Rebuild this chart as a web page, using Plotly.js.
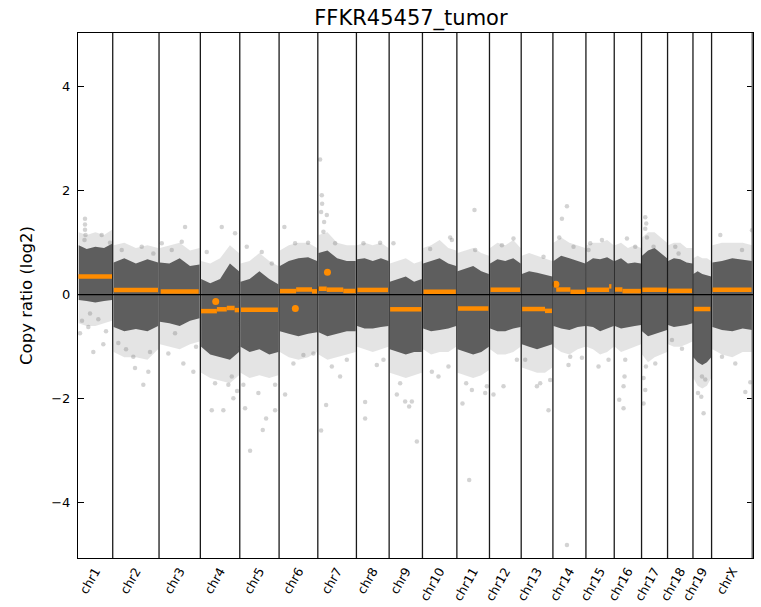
<!DOCTYPE html>
<html>
<head>
<meta charset="utf-8">
<script src="https://cdn.plot.ly/plotly-3.0.1.min.js"></script>
<style>html,body{margin:0;padding:0;background:#fff;}#chart{width:761px;height:607px;}</style>
</head>
<body>
<div id="chart"></div>
<script>
// ---------- DATA ----------
const chromNames = ['chr1','chr2','chr3','chr4','chr5','chr6','chr7','chr8','chr9','chr10',
  'chr11','chr12','chr13','chr14','chr15','chr16','chr17','chr18','chr19','chrX'];
// extent of each chromosome along the genome axis (relative units)
const chromSpan = [34.7,46.3,41.3,39.4,39.3,38.7,38.6,32.7,33.3,34.4,32.6,31.7,31.7,33.0,28.3,27.3,26.0,25.4,18.6,41.4];

// fractions along each chromosome where the bin-cloud envelope was read
const envFrac = [0.02,0.25,0.5,0.75,0.98];
// dense core of the bin cloud (upper / lower edge, log2)
const coreHi = [
  [0.95,0.88,0.92,0.9,0.98],[0.62,0.7,0.6,0.68,0.62],[0.62,0.6,0.7,0.55,0.58],[0.3,0.22,0.3,0.6,0.45],
  [0.25,0.3,0.45,0.3,0.2],[0.55,0.65,0.7,0.72,0.65],[0.8,0.85,0.7,0.65,0.65],[0.68,0.7,0.65,0.7,0.65],
  [0.25,0.3,0.35,0.25,0.3],[0.6,0.65,0.7,0.6,0.55],[0.45,0.5,0.55,0.45,0.4],[0.6,0.68,0.65,0.7,0.6],
  [0.4,0.45,0.42,0.38,0.35],[0.65,0.75,0.7,0.65,0.6],[0.62,0.7,0.68,0.72,0.65],[0.65,0.7,0.6,0.62,0.6],
  [0.75,0.85,0.9,0.8,0.7],[0.65,0.7,0.68,0.62,0.6],[0.4,0.45,0.4,0.38,0.35],[0.62,0.65,0.7,0.68,0.65]];
const coreLo = [
  [-0.1,-0.12,-0.15,-0.12,-0.1],[-0.62,-0.7,-0.66,-0.7,-0.6],[-0.52,-0.55,-0.6,-0.5,-0.45],[-1.0,-1.15,-1.2,-1.25,-1.1],
  [-1.0,-1.1,-1.05,-1.15,-1.1],[-0.7,-0.75,-0.8,-0.75,-0.72],[-0.72,-0.8,-0.75,-0.7,-0.7],[-0.6,-0.65,-0.65,-0.62,-0.6],
  [-1.05,-1.1,-1.15,-1.1,-1.1],[-0.65,-0.7,-0.68,-0.65,-0.6],[-1.05,-1.1,-1.15,-1.1,-1.0],[-0.65,-0.7,-0.7,-0.65,-0.62],
  [-0.95,-1.0,-1.05,-1.0,-0.95],[-0.6,-0.65,-0.68,-0.62,-0.6],[-0.6,-0.62,-0.7,-0.65,-0.6],[-0.6,-0.65,-0.62,-0.6,-0.58],
  [-0.7,-0.8,-0.75,-0.72,-0.68],[-0.58,-0.62,-0.6,-0.58,-0.55],[-1.2,-1.3,-1.35,-1.3,-1.2],[-0.62,-0.68,-0.7,-0.65,-0.68]];
// sparse fringe of the bin cloud
const haloHi = [
  [1.2,1.15,1.2,1.15,1.25],[0.95,1.0,0.9,0.95,0.9],[0.9,0.95,1.0,0.85,0.9],[0.65,0.6,0.7,0.95,0.8],
  [0.6,0.65,0.8,0.65,0.55],[0.85,0.95,1.0,1.0,0.9],[1.15,1.2,1.0,0.95,0.95],[0.95,1.0,0.95,1.0,0.9],
  [0.6,0.65,0.7,0.6,0.65],[0.9,0.95,1.05,0.9,0.85],[0.8,0.85,0.9,0.8,0.75],[0.9,1.0,0.95,1.05,0.9],
  [0.75,0.8,0.75,0.7,0.65],[1.0,1.1,1.0,0.95,0.9],[0.95,1.0,1.0,1.05,0.95],[0.95,1.0,0.9,0.95,0.9],
  [1.1,1.2,1.2,1.1,1.0],[0.95,1.0,1.0,0.9,0.9],[0.7,0.75,0.7,0.7,0.65],[0.95,1.0,1.0,1.0,0.95]];
const haloLo = [
  [-0.55,-0.6,-0.6,-0.55,-0.5],[-1.1,-1.2,-1.2,-1.25,-1.05],[-0.95,-1.0,-1.05,-0.95,-0.9],[-1.5,-1.6,-1.65,-1.7,-1.55],
  [-1.5,-1.6,-1.55,-1.6,-1.55],[-1.1,-1.2,-1.25,-1.2,-1.1],[-1.15,-1.25,-1.2,-1.15,-1.1],[-1.0,-1.05,-1.1,-1.05,-1.0],
  [-1.5,-1.55,-1.6,-1.55,-1.5],[-1.05,-1.15,-1.1,-1.1,-1.0],[-1.5,-1.55,-1.6,-1.55,-1.45],[-1.05,-1.15,-1.15,-1.1,-1.0],
  [-1.4,-1.45,-1.5,-1.5,-1.4],[-1.0,-1.1,-1.15,-1.05,-1.0],[-1.0,-1.05,-1.15,-1.1,-1.0],[-1.0,-1.1,-1.05,-1.0,-0.95],
  [-1.15,-1.3,-1.2,-1.15,-1.1],[-0.95,-1.0,-1.0,-0.95,-0.9],[-1.6,-1.75,-1.8,-1.75,-1.6],[-1.05,-1.15,-1.2,-1.1,-1.1]];

// isolated outlier bins: chromosome index, offset within chromosome, log2 value
const outChrom = [0,0,0,0,0,0,0,0,0,0,0,0,0,0,0,
  1,1,1,1,1,1,1,1,1,1,
  2,2,2,2,2,2,2,2,2,
  3,3,3,3,3,3,3,3,3,3,
  4,4,4,4,4,4,4,4,4,4,4,
  5,5,5,5,5,5,5,
  6,6,6,6,6,6,6,6,6,6,6,6,6,
  7,7,7,7,7,7,
  8,8,8,8,8,8,8,
  9,9,9,9,9,9,
  10,10,10,10,10,10,10,10,
  11,11,11,11,11,
  12,12,12,12,12,12,
  13,13,13,13,13,13,13,13,
  14,14,14,14,14,
  15,15,15,15,15,15,15,
  16,16,16,16,16,16,16,16,16,16,
  17,17,17,17,
  18,18,18,18,18,
  19,19,19,19,19,19,19];
const outPos = [7,7,7,7.5,6.5,23.7,10.3,20.3,2,15.3,25.3,12,32,4,28,
  30.6,22.3,35.6,5.6,20.6,9,29,40.6,13.3,37.3,
  26,12.7,22.7,34.3,24.3,9.3,16,2.7,37,
  21.4,11.4,23,33,28,34.7,6.4,31.4,14.7,36.7,
  10.3,23,18.6,5.3,35.3,26.3,7,32,22,35.3,3.6,
  5.3,6,14.3,24.3,34.3,16,29,
  2.3,4,3.3,9,5.6,8.3,3.3,14,29,22.3,17.3,6.3,4.3,
  8.7,8.7,20.4,27,7,23.7,
  27.7,22.7,20,16,7.7,4.3,11,
  27.7,7.7,16,9.4,26,29.4,
  12.3,17.6,5.6,28.3,30,15,18.3,9.3,
  14,4,12.4,24,27.4,
  27.3,19,15.7,29,4,22.3,
  14,9,6.3,20.6,15.6,17.3,14,29,
  12.6,22.6,4.3,16,2.6,
  9.3,5,10.3,9.3,11,12.7,21,
  3.7,4.7,3.7,5.4,2,3.7,2,4.4,13.7,12,
  7.7,11,14.4,4.4,
  10.6,8.3,5,12.3,9,
  8.7,38.7,33.7,23.7,10.4,30.4,40.4];
const outVal = [1.46,1.35,1.25,1.15,1.05,1.15,-0.62,-0.47,-0.74,-1.1,-0.95,-0.36,1.0,-0.5,-0.7,
  -1.73,-1.41,-1.48,-0.93,-1.19,0.86,0.92,0.79,-1.05,-1.1,
  1.3,0.86,1.02,-1.48,-1.32,-1.13,-0.74,0.99,-1.0,
  1.3,-2.22,-2.22,-1.99,-1.73,1.18,0.82,-1.57,-1.7,-1.85,
  -3.0,-2.6,-1.89,-2.18,-2.22,-2.38,0.92,0.6,0.82,-1.73,-1.73,
  1.3,-1.92,-1.32,-1.16,-1.13,0.99,1.0,
  2.6,1.91,1.59,1.53,1.21,-2.12,-2.61,-1.38,-1.25,-1.57,0.99,1.4,1.75,
  -2.38,-2.06,-1.35,-1.25,0.99,1.0,
  -2.82,-2.05,-2.15,-2.05,-1.92,0.99,-1.7,
  1.1,0.88,-1.57,-1.48,-1.38,1.05,
  -3.56,1.63,-2.09,-1.89,-1.76,-1.83,0.86,-1.7,
  -1.76,-1.92,0.95,1.08,-1.25,
  -2.22,-1.7,-1.76,-1.64,-1.25,0.73,
  1.7,1.46,1.1,0.92,-1.35,-1.19,-4.81,-1.21,
  -1.38,-1.25,0.99,1.05,0.86,
  -2.18,-2.02,-1.57,-1.76,-1.25,1.08,0.92,
  1.49,1.37,1.27,1.1,-2.09,-1.83,-1.6,-1.38,-1.32,0.92,
  0.92,0.79,-1.04,-0.87,
  -2.28,-1.96,-1.89,-1.63,-1.57,
  1.15,-1.68,-1.87,-1.32,-1.19,0.86,1.24];

// segments: chromosome index, start fraction, end fraction, segment mean log2
const segChrom = [0,1,2,3,3,3,3,4,5,5,5,6,6,6,7,8,9,10,11,12,12,13,13,14,14,15,15,16,17,18,19];
const segStart = [0.01,0.02,0.04,0.01,0.42,0.67,0.87,0.03,0.01,0.44,0.85,0.01,0.23,0.66,0.03,0.03,0.03,0.03,0.03,0.03,0.75,0.1,0.53,0.02,0.82,0.02,0.3,0.02,0.02,0.05,0.02];
const segEnd   = [0.99,0.98,0.96,0.42,0.67,0.87,0.99,0.97,0.44,0.85,0.99,0.23,0.66,0.99,0.97,0.97,0.97,0.97,0.97,0.75,0.97,0.53,0.98,0.82,0.9,0.3,0.98,0.98,0.98,0.93,0.98];
const segVal   = [0.35,0.09,0.06,-0.315,-0.28,-0.255,-0.295,-0.29,0.07,0.10,0.065,0.115,0.097,0.072,0.092,-0.28,0.055,-0.265,0.096,-0.275,-0.31,0.10,0.055,0.095,0.16,0.10,0.07,0.095,0.075,-0.275,0.095];
// very short segments (drawn as dots)
const dotChrom = [3,5,6,13];
const dotFrac  = [0.39,0.42,0.25,0.09];
const dotVal   = [-0.13,-0.265,0.43,0.2];

const yTicks = [-4,-2,0,2,4];

// ---------- BUILD ----------
const chromStart = [];
let acc = 0;
chromSpan.forEach(s => { chromStart.push(acc); acc += s; });
const genomeEnd = acc;
const centers = chromSpan.map((s,i) => chromStart[i] + s/2);

const traces = [];
function bandTrace(hi, lo, fillcolor) {
  const xs = [], ys = [];
  for (let c = 0; c < chromNames.length; c++) {
    const st = chromStart[c], sp = chromSpan[c];
    envFrac.forEach((f,k) => { xs.push(st + f*sp); ys.push(hi[c][k]); });
    for (let k = envFrac.length-1; k >= 0; k--) { xs.push(st + envFrac[k]*sp); ys.push(lo[c][k]); }
    xs.push(st + envFrac[0]*sp); ys.push(hi[c][0]);
    xs.push(null); ys.push(null);
  }
  return {type:'scatter', mode:'lines', x:xs, y:ys, fill:'toself', fillcolor:fillcolor,
    line:{width:0, color:fillcolor}, hoverinfo:'skip', showlegend:false};
}
traces.push(bandTrace(haloHi, haloLo, 'rgba(120,120,120,0.2)'));
traces.push(bandTrace(coreHi, coreLo, 'rgba(94,94,94,1)'));

traces.push({type:'scatter', mode:'markers',
  x: outPos.map((p,i) => chromStart[outChrom[i]] + p), y: outVal,
  marker:{size:4.5, color:'rgba(128,128,128,0.35)', line:{width:0}},
  hoverinfo:'skip', showlegend:false});

const sx = [], sy = [];
segChrom.forEach((c,i) => {
  sx.push(chromStart[c] + segStart[i]*chromSpan[c], chromStart[c] + segEnd[i]*chromSpan[c], null);
  sy.push(segVal[i], segVal[i], null);
});
traces.push({type:'scatter', mode:'lines', x:sx, y:sy, line:{color:'#FF8C00', width:4.5},
  hoverinfo:'skip', showlegend:false});
traces.push({type:'scatter', mode:'markers',
  x: dotChrom.map((c,i) => chromStart[c] + dotFrac[i]*chromSpan[c]), y: dotVal,
  marker:{size:7, color:'#FF8C00'}, hoverinfo:'skip', showlegend:false});

const shapes = [];
for (let c = 1; c < chromNames.length; c++) {
  shapes.push({type:'line', xref:'x', yref:'paper', x0:chromStart[c], x1:chromStart[c], y0:0, y1:1,
    line:{color:'#1a1a1a', width:1.3}, layer:'above'});
}
shapes.push({type:'line', xref:'x', yref:'paper', x0:genomeEnd, x1:genomeEnd, y0:0, y1:1,
  line:{color:'#6a6a6a', width:3}, layer:'above'});
shapes.push({type:'line', xref:'paper', yref:'y', x0:0, x1:1, y0:0, y1:0,
  line:{color:'#000', width:1.2}, layer:'above'});

const font = 'DejaVu Sans, sans-serif';
const layout = {
  width:761, height:607,
  margin:{l:78, r:8, t:33, b:49},
  paper_bgcolor:'#fff', plot_bgcolor:'#fff',
  showlegend:false,
  font:{family:font, color:'#000', size:12.5},
  title:{text:'FFKR45457_tumor', font:{family:font, size:21, color:'#000'},
    x:0.54, xanchor:'center', y:0.971, yref:'container', yanchor:'middle'},
  xaxis:{range:[0, genomeEnd], showgrid:false, zeroline:false, showline:true, mirror:true,
    linecolor:'#000', linewidth:1, tickmode:'array', tickvals:centers, ticktext:chromNames,
    tickangle:-60, ticks:'', ticklabelstandoff:0, tickfont:{family:font, size:12.5, color:'#000'}},
  yaxis:{range:[-5.06, 5.03], showgrid:false, zeroline:false, showline:true, mirror:'ticks',
    linecolor:'#000', linewidth:1, tickmode:'array', tickvals:yTicks,
    ticks:'inside', ticklen:6, tickwidth:1, tickcolor:'#000', ticklabelstandoff:4,
    tickfont:{family:font, size:13, color:'#000'},
    title:{text:'Copy ratio (log2)', font:{family:font, size:16.5, color:'#000'}, standoff:14}},
  shapes:shapes
};
Plotly.newPlot('chart', traces, layout, {staticPlot:true, displayModeBar:false});
</script>
</body>
</html>
